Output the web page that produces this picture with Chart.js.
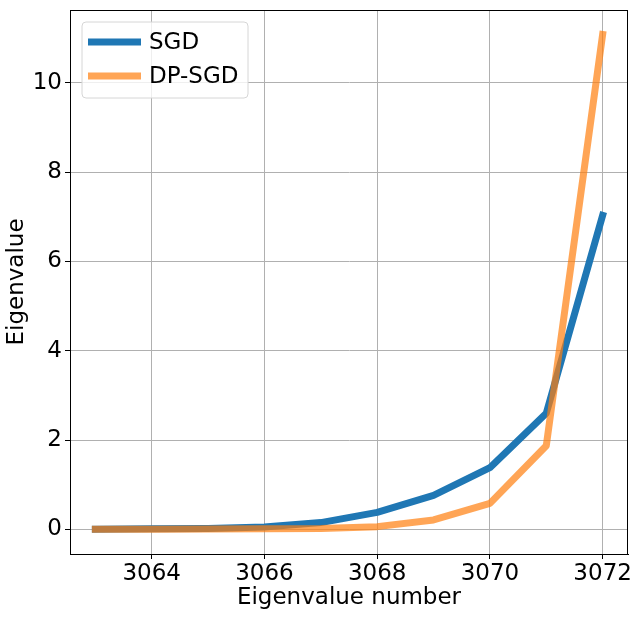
<!DOCTYPE html>
<html>
<head>
<meta charset="utf-8">
<script src="https://cdn.jsdelivr.net/npm/chart.js@4"></script>
<style>
html,body{margin:0;padding:0;background:#fff;}
#wrap{width:639px;height:618px;}
</style>
</head>
<body>
<div id="wrap"><canvas id="c" width="639" height="618"></canvas></div>
<script>
const eigenIndex = [3063, 3064, 3065, 3066, 3067, 3068, 3069, 3070, 3071, 3072];
const sgdValues = [0.0, 0.01, 0.02, 0.05, 0.15, 0.38, 0.76, 1.38, 2.6, 7.03];
const dpsgdValues = [0.0, 0.0, 0.005, 0.01, 0.02, 0.06, 0.21, 0.58, 1.87, 11.08];
const xTicks = [3064, 3066, 3068, 3070, 3072];
const yTicks = [0, 2, 4, 6, 8, 10];
const seriesNames = ['SGD', 'DP-SGD'];

const FONT = "'DejaVu Sans', sans-serif";
const FS = 23;

const frameAndLegend = {
  id: 'frameAndLegend',
  afterDatasetsDraw(chart) {
    const ctx = chart.ctx;
    const a = chart.chartArea;
    ctx.save();
    ctx.strokeStyle = '#000';
    ctx.lineWidth = 1;
    ctx.strokeRect(Math.round(a.left) + 0.5, Math.round(a.top) + 0.5,
                   Math.round(a.right - a.left) - 1, Math.round(a.bottom - a.top));
    const bx = a.left + 12, by = a.top + 12, bw = 166, bh = 76, r = 4;
    ctx.beginPath();
    ctx.moveTo(bx + r, by);
    ctx.lineTo(bx + bw - r, by);
    ctx.arcTo(bx + bw, by, bx + bw, by + r, r);
    ctx.lineTo(bx + bw, by + bh - r);
    ctx.arcTo(bx + bw, by + bh, bx + bw - r, by + bh, r);
    ctx.lineTo(bx + r, by + bh);
    ctx.arcTo(bx, by + bh, bx, by + bh - r, r);
    ctx.lineTo(bx, by + r);
    ctx.arcTo(bx, by, bx + r, by, r);
    ctx.closePath();
    ctx.fillStyle = 'rgba(255,255,255,0.8)';
    ctx.fill();
    ctx.strokeStyle = '#d6d6d6';
    ctx.lineWidth = 1;
    ctx.stroke();
    ctx.font = FS + 'px ' + FONT;
    ctx.textBaseline = 'middle';
    ctx.textAlign = 'left';
    chart.data.datasets.forEach((ds, i) => {
      const y = by + 20 + i * 34;
      ctx.beginPath();
      ctx.moveTo(bx + 6, y);
      ctx.lineTo(bx + 59, y);
      ctx.strokeStyle = ds.borderColor;
      ctx.lineWidth = ds.borderWidth;
      ctx.lineCap = 'butt';
      ctx.stroke();
      ctx.fillStyle = '#000';
      ctx.fillText(ds.label, bx + 67, y + 1);
    });
    ctx.restore();
  }
};

const ctx = document.getElementById('c').getContext('2d');
new Chart(ctx, {
  type: 'line',
  data: {
    datasets: [
      {
        label: seriesNames[0],
        data: eigenIndex.map((x, i) => ({x: x, y: sgdValues[i]})),
        borderColor: '#1f77b4',
        borderWidth: 7,
        pointRadius: 0,
        tension: 0,
        borderCapStyle: 'square',
        borderJoinStyle: 'round',
        order: 2
      },
      {
        label: seriesNames[1],
        data: eigenIndex.map((x, i) => ({x: x, y: dpsgdValues[i]})),
        borderColor: 'rgba(255,127,14,0.7)',
        borderWidth: 7,
        pointRadius: 0,
        tension: 0,
        borderCapStyle: 'square',
        borderJoinStyle: 'round',
        order: 1
      }
    ]
  },
  options: {
    responsive: false,
    animation: false,
    devicePixelRatio: 1,
    layout: {padding: {top: 10, right: 11, left: 0, bottom: 0}},
    plugins: {legend: {display: false}, tooltip: {enabled: false}},
    scales: {
      x: {
        type: 'linear',
        min: 3062.55,
        max: 3072.45,
        afterBuildTicks(scale) { scale.ticks = xTicks.map(v => ({value: v})); },
        afterFit(scale) { scale.height = 64; scale.paddingLeft = 0; scale.paddingRight = 0; },
        grid: {color: '#b0b0b0', lineWidth: 1, tickColor: '#000', tickLength: 5, drawTicks: true},
        border: {color: '#000', width: 1},
        ticks: {color: '#000', font: {family: FONT, size: FS}, padding: 1, maxRotation: 0,
                callback: v => String(v)},
        title: {display: true, text: 'Eigenvalue number', color: '#000',
                font: {family: FONT, size: FS}, padding: {top: 6, bottom: 6}}
      },
      y: {
        type: 'linear',
        min: -0.553,
        max: 11.63,
        afterBuildTicks(scale) { scale.ticks = yTicks.map(v => ({value: v})); },
        afterFit(scale) { scale.width = 70; scale.paddingTop = 0; scale.paddingBottom = 0; },
        grid: {color: '#b0b0b0', lineWidth: 1, tickColor: '#000', tickLength: 5, drawTicks: true},
        border: {color: '#000', width: 1},
        ticks: {color: '#000', font: {family: FONT, size: FS}, padding: 3,
                callback: v => String(v)},
        title: {display: true, text: 'Eigenvalue', color: '#000',
                font: {family: FONT, size: FS}, padding: {top: 3, bottom: 3}}
      }
    }
  },
  plugins: [frameAndLegend]
});
</script>
</body>
</html>
